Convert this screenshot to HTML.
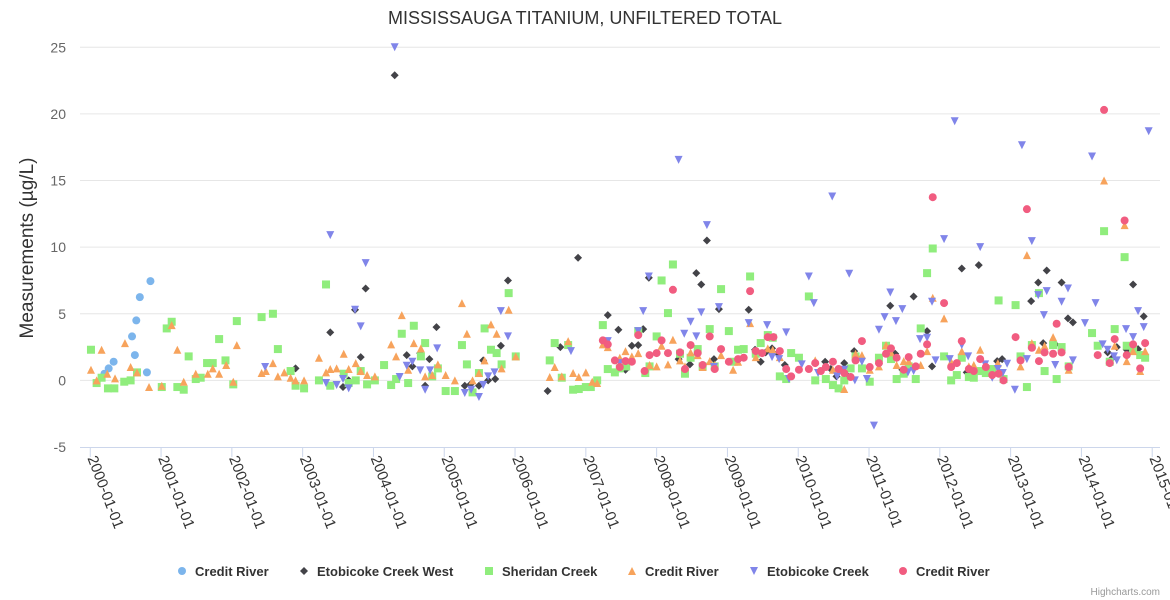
<!DOCTYPE html>
<html><head><meta charset="utf-8"><style>
body{margin:0;background:#fff;}
svg{display:block;font-family:"Liberation Sans",Arial,sans-serif;}
</style></head><body>
<svg id="chart" width="1170" height="600">
<text x="585" y="24" text-anchor="middle" font-size="18" fill="#333">MISSISSAUGA TITANIUM, UNFILTERED TOTAL</text>
<text transform="translate(33,248) rotate(-90)" text-anchor="middle" font-size="19" fill="#333">Measurements (µg/L)</text>
<g id="grid"></g><g id="xaxis"></g><g id="marks"></g><g id="legend"></g>
<text x="1160" y="595" text-anchor="end" font-size="10" fill="#999">Highcharts.com</text>
</svg>
<script>
const yTicks=[-5,0,5,10,15,20,25];
const xTickYears=[2000,2001,2002,2003,2004,2005,2006,2007,2008,2009,2010,2011,2012,2013,2014,2015];
const seriesNames=["Credit River","Etobicoke Creek West","Sheridan Creek","Credit River","Etobicoke Creek","Credit River"];
const creditRiverA=[[2000.20,0.5],[2000.26,0.9],[2000.33,1.4],[2000.59,3.3],[2000.65,4.5],[2000.63,1.9],[2000.70,6.25],[2000.80,0.6],[2000.85,7.45]];
const etobicokeWest=[[2002.90,0.9],[2003.39,3.6],[2003.57,-0.5],[2003.65,0],[2003.74,5.3],[2003.82,1.75],[2003.89,6.9],[2004.30,22.9],[2004.47,1.9],[2004.55,1.05],[2004.66,2.05],[2004.73,-0.4],[2004.79,1.6],[2004.89,4.0],[2005.29,-0.4],[2005.37,-0.3],[2005.49,-0.4],[2005.55,1.5],[2005.62,0],[2005.72,0.1],[2005.80,2.6],[2005.90,7.5],[2006.46,-0.8],[2006.64,2.5],[2006.89,9.2],[2007.31,4.9],[2007.46,3.8],[2007.56,0.8],[2007.65,2.6],[2007.74,2.65],[2007.81,3.85],[2007.89,7.7],[2008.31,1.6],[2008.47,1.2],[2008.56,8.05],[2008.63,7.2],[2008.71,10.5],[2008.81,1.6],[2008.88,5.35],[2009.30,5.3],[2009.39,2.3],[2009.47,1.4],[2009.54,2.1],[2009.63,2.4],[2009.71,2.05],[2009.81,1.15],[2010.38,1.4],[2010.46,0.85],[2010.54,0.3],[2010.65,1.3],[2010.70,0.3],[2010.79,2.2],[2010.81,1.9],[2011.30,5.6],[2011.37,2.0],[2011.47,0.8],[2011.63,6.3],[2011.82,3.7],[2011.89,1.05],[2012.31,8.4],[2012.38,0.6],[2012.55,8.65],[2012.81,1.45],[2012.88,1.6],[2013.29,5.95],[2013.39,7.35],[2013.46,2.8],[2013.51,8.25],[2013.63,2.7],[2013.72,7.35],[2013.81,4.65],[2013.88,4.35],[2014.37,2.1],[2014.44,1.7],[2014.50,2.5],[2014.64,2.3],[2014.73,7.2],[2014.80,2.35],[2014.88,4.8]];
const sheridanCreek=[[2000.01,2.3],[2000.09,-0.2],[2000.16,0.2],[2000.25,-0.6],[2000.34,-0.6],[2000.48,-0.1],[2000.57,0],[2000.66,0.6],[2001.08,3.9],[2001.15,4.4],[2001.01,-0.5],[2001.23,-0.5],[2001.32,-0.7],[2001.39,1.8],[2001.49,0.1],[2001.56,0.2],[2001.65,1.3],[2001.73,1.3],[2001.82,3.1],[2001.91,1.5],[2002.02,-0.3],[2002.07,4.45],[2002.42,4.75],[2002.58,5.0],[2002.65,2.35],[2002.83,0.7],[2002.90,-0.4],[2003.02,-0.6],[2003.23,0],[2003.33,7.2],[2003.39,-0.4],[2003.58,0.5],[2003.65,-0.2],[2003.75,0],[2003.82,0.7],[2003.91,-0.3],[2004.02,0],[2004.15,1.15],[2004.25,-0.35],[2004.32,0.1],[2004.40,3.5],[2004.49,-0.2],[2004.57,4.1],[2004.67,1.8],[2004.73,2.8],[2004.83,0.3],[2004.91,0.9],[2005.02,-0.8],[2005.15,-0.8],[2005.25,2.65],[2005.32,1.2],[2005.40,-0.9],[2005.49,0.55],[2005.57,3.9],[2005.66,2.3],[2005.74,2.05],[2005.81,1.2],[2005.91,6.55],[2006.01,1.8],[2006.49,1.5],[2006.56,2.8],[2006.66,0.2],[2006.75,2.65],[2006.82,-0.7],[2006.90,-0.65],[2007.00,-0.5],[2007.07,-0.5],[2007.16,0],[2007.24,4.15],[2007.31,0.85],[2007.41,0.6],[2007.48,0.9],[2007.57,1.05],[2007.74,3.7],[2007.84,0.55],[2007.90,1.05],[2008.00,3.3],[2008.07,7.5],[2008.16,5.05],[2008.23,8.7],[2008.33,2.0],[2008.40,0.5],[2008.48,1.7],[2008.58,2.35],[2008.65,1.05],[2008.75,3.85],[2008.82,1.05],[2008.91,6.85],[2009.02,3.7],[2009.09,1.4],[2009.15,2.3],[2009.23,2.35],[2009.32,7.8],[2009.40,2.0],[2009.47,2.8],[2009.57,3.4],[2009.64,3.2],[2009.74,0.3],[2009.83,0.1],[2009.90,2.05],[2010.01,1.7],[2010.15,6.3],[2010.24,0],[2010.39,0.1],[2010.49,-0.35],[2010.57,-0.6],[2010.65,0],[2010.74,0.9],[2010.81,1.8],[2010.90,0.9],[2011.01,-0.1],[2011.14,1.7],[2011.24,2.6],[2011.31,1.6],[2011.39,0.1],[2011.49,0.5],[2011.56,1.05],[2011.66,0.1],[2011.73,3.9],[2011.82,8.05],[2011.90,9.9],[2012.06,1.8],[2012.16,0],[2012.24,0.4],[2012.31,1.7],[2012.41,0.25],[2012.48,0.2],[2012.57,0.7],[2012.65,0.55],[2012.74,0.85],[2012.83,6.0],[2012.90,0.1],[2013.07,5.65],[2013.14,1.8],[2013.23,-0.5],[2013.30,2.65],[2013.40,6.55],[2013.48,0.7],[2013.60,2.65],[2013.65,0.1],[2013.72,2.5],[2013.82,1.05],[2014.15,3.55],[2014.23,2.6],[2014.32,11.2],[2014.40,1.4],[2014.47,3.85],[2014.61,9.25],[2014.64,2.6],[2014.73,2.35],[2014.83,1.9],[2014.90,1.7]];
const creditRiverB=[[2000.01,0.8],[2000.09,0],[2000.16,2.3],[2000.24,0.5],[2000.35,0.15],[2000.49,2.8],[2000.57,1.0],[2000.66,0.6],[2000.83,-0.5],[2001.01,-0.4],[2001.15,4.15],[2001.23,2.3],[2001.32,-0.1],[2001.49,0.5],[2001.66,0.5],[2001.73,0.9],[2001.82,0.5],[2001.92,1.15],[2002.02,-0.1],[2002.07,2.65],[2002.42,0.55],[2002.48,0.7],[2002.58,1.3],[2002.65,0.3],[2002.74,0.6],[2002.83,0.2],[2002.90,0],[2003.02,0],[2003.23,1.7],[2003.33,0.6],[2003.39,0.85],[2003.48,0.9],[2003.58,2.0],[2003.65,0.85],[2003.75,1.3],[2003.82,0.7],[2003.91,0.4],[2004.02,0.3],[2004.25,2.7],[2004.32,1.8],[2004.40,4.9],[2004.49,0.8],[2004.57,2.8],[2004.67,2.4],[2004.73,0.3],[2004.83,0.4],[2004.91,1.2],[2005.02,0.4],[2005.15,0],[2005.25,5.8],[2005.32,3.5],[2005.40,0],[2005.49,0.55],[2005.57,1.5],[2005.66,4.2],[2005.74,3.5],[2005.81,0.9],[2005.91,5.3],[2006.01,1.8],[2006.49,0.25],[2006.56,1.0],[2006.66,0.3],[2006.75,2.95],[2006.82,0.55],[2006.90,0.25],[2007.00,0.6],[2007.09,-0.1],[2007.16,-0.2],[2007.24,2.7],[2007.31,2.5],[2007.48,1.7],[2007.56,2.2],[2007.65,1.8],[2007.74,2.05],[2007.90,1.15],[2008.00,1.05],[2008.07,2.6],[2008.16,1.2],[2008.23,3.05],[2008.33,1.5],[2008.40,1.05],[2008.48,2.1],[2008.58,1.9],[2008.65,1.0],[2008.75,1.45],[2008.82,1.15],[2008.91,1.9],[2009.08,0.8],[2009.15,1.4],[2009.32,4.3],[2009.40,1.75],[2009.57,2.4],[2009.64,2.3],[2009.74,1.75],[2010.24,1.5],[2010.49,0.8],[2010.65,-0.65],[2010.81,2.0],[2010.90,1.9],[2011.01,0.8],[2011.14,1.05],[2011.24,2.65],[2011.31,2.1],[2011.39,1.15],[2011.49,1.45],[2011.56,1.45],[2011.73,1.15],[2011.82,2.2],[2011.90,6.2],[2012.06,4.65],[2012.16,1.4],[2012.31,2.2],[2012.41,1.05],[2012.48,1.15],[2012.57,2.3],[2012.82,1.3],[2013.14,1.05],[2013.23,9.4],[2013.30,2.8],[2013.40,2.3],[2013.48,2.6],[2013.60,3.25],[2013.82,0.8],[2014.32,15.0],[2014.47,2.6],[2014.61,11.65],[2014.64,1.45],[2014.73,2.2],[2014.83,0.7],[2014.90,2.2]];
const etobicokeCreek=[[2002.47,1.0],[2003.33,-0.2],[2003.39,10.9],[2003.48,-0.35],[2003.57,0.1],[2003.65,-0.6],[2003.74,5.3],[2003.82,4.05],[2003.89,8.8],[2004.30,25.0],[2004.37,0.25],[2004.47,1.1],[2004.55,1.4],[2004.66,0.75],[2004.73,-0.7],[2004.80,0.75],[2004.90,2.4],[2005.29,-0.95],[2005.38,-0.7],[2005.49,-1.25],[2005.55,-0.35],[2005.62,0.3],[2005.71,0.6],[2005.80,5.2],[2005.90,3.3],[2006.79,2.2],[2007.31,2.95],[2007.48,1.3],[2007.74,3.7],[2007.81,5.2],[2007.89,7.8],[2008.31,16.55],[2008.39,3.5],[2008.48,4.4],[2008.56,3.3],[2008.63,5.1],[2008.71,11.65],[2008.81,1.0],[2008.88,5.5],[2009.30,4.3],[2009.56,4.15],[2009.63,1.75],[2009.73,1.6],[2009.83,3.6],[2009.87,0.1],[2010.05,1.2],[2010.15,7.8],[2010.22,5.8],[2010.28,0.55],[2010.48,13.8],[2010.55,0.3],[2010.65,0.8],[2010.72,8.0],[2010.80,0],[2010.90,1.4],[2010.97,0.1],[2011.07,-3.4],[2011.14,3.8],[2011.22,4.75],[2011.30,6.6],[2011.38,4.45],[2011.47,5.35],[2011.55,0.6],[2011.63,0.7],[2011.72,3.1],[2011.82,3.2],[2011.89,5.9],[2011.94,1.5],[2012.06,10.6],[2012.14,1.6],[2012.21,19.45],[2012.31,2.65],[2012.40,1.8],[2012.57,10.0],[2012.64,1.2],[2012.74,0.2],[2012.82,0.85],[2012.89,0.55],[2012.95,1.25],[2013.06,-0.7],[2013.16,17.65],[2013.23,1.6],[2013.30,10.45],[2013.39,6.4],[2013.47,4.9],[2013.51,6.7],[2013.63,1.15],[2013.72,5.9],[2013.81,6.9],[2013.88,1.5],[2014.05,4.3],[2014.15,16.8],[2014.20,5.8],[2014.30,2.7],[2014.37,2.3],[2014.46,1.8],[2014.50,1.5],[2014.63,3.85],[2014.73,3.25],[2014.80,5.2],[2014.88,4.0],[2014.95,18.7]];
const creditRiverC=[[2007.24,3.0],[2007.31,2.7],[2007.41,1.5],[2007.48,1.0],[2007.56,1.45],[2007.65,1.4],[2007.74,3.4],[2007.83,0.7],[2007.90,1.9],[2008.00,2.05],[2008.07,3.0],[2008.16,2.05],[2008.23,6.8],[2008.33,2.1],[2008.40,0.85],[2008.48,2.65],[2008.58,2.05],[2008.65,1.15],[2008.75,3.3],[2008.82,0.85],[2008.91,2.35],[2009.02,1.4],[2009.15,1.6],[2009.23,1.7],[2009.32,6.7],[2009.40,2.2],[2009.49,2.05],[2009.57,3.25],[2009.65,3.25],[2009.74,2.2],[2009.83,0.85],[2009.90,0.3],[2010.01,0.8],[2010.15,0.85],[2010.24,1.3],[2010.32,0.7],[2010.39,1.0],[2010.49,1.4],[2010.57,0.85],[2010.65,0.55],[2010.74,0.25],[2010.81,1.5],[2010.90,2.95],[2011.01,1.0],[2011.14,1.3],[2011.24,2.0],[2011.31,2.4],[2011.39,1.7],[2011.49,0.8],[2011.56,1.75],[2011.66,1.05],[2011.73,2.0],[2011.82,2.7],[2011.90,13.75],[2012.06,5.8],[2012.16,1.0],[2012.24,1.3],[2012.31,2.95],[2012.41,0.85],[2012.48,0.7],[2012.57,1.6],[2012.65,1.0],[2012.74,0.4],[2012.83,0.5],[2012.90,0],[2013.07,3.25],[2013.14,1.5],[2013.23,12.85],[2013.30,2.45],[2013.40,1.45],[2013.48,2.1],[2013.60,2.0],[2013.65,4.25],[2013.72,2.1],[2013.82,1.0],[2014.23,1.9],[2014.32,20.3],[2014.40,1.3],[2014.47,3.1],[2014.61,12.0],[2014.64,1.9],[2014.73,2.7],[2014.83,0.9],[2014.90,2.8]];

const NS="http://www.w3.org/2000/svg";
const X0=80,X1=1160,Y0=447,Y1=47.3,xMin=1999.855,xMax=2015.11,yMin=-5,yMax=25;
function xs(v){return X0+(v-xMin)/(xMax-xMin)*(X1-X0);}
function ys(v){return Y0-(v-yMin)/(yMax-yMin)*(Y0-Y1);}
function mk(tag,attrs,parent){const e=document.createElementNS(NS,tag);for(const k in attrs)e.setAttribute(k,attrs[k]);parent.appendChild(e);return e;}
const grid=document.getElementById('grid'),xa=document.getElementById('xaxis'),marks=document.getElementById('marks'),leg=document.getElementById('legend');
yTicks.forEach(t=>{
  if(t>yMin){const l=mk('line',{x1:X0,x2:X1,y1:ys(t),y2:ys(t),stroke:'#e6e6e6','stroke-width':1},grid);
  
  }
  const tx=mk('text',{x:66,y:ys(t)+5,'text-anchor':'end','font-size':14,fill:'#666'},grid);
  tx.textContent=t;
  
  
});
const axl=mk('line',{x1:X0,x2:X1,y1:Y0+0.5,y2:Y0+0.5,stroke:'#ccd6eb'},xa);


xTickYears.forEach(yr=>{
  const x=xs(yr);
  const tk=mk('line',{x1:x,x2:x,y1:Y0,y2:Y0+10,stroke:'#ccd6eb'},xa);
  
  
  const tx=mk('text',{transform:`translate(${x-3},${Y0+11}) rotate(69)`,'font-size':15,fill:'#333'},xa);
  tx.textContent=yr+'-01-01';
  
  
});
const colors=['#7cb5ec','#434348','#90ed7d','#f7a35c','#8085e9','#f15c80'];
const shapes=['circle','diamond','square','triangle','triangle-down','circle'];
function symbol(shape,x,y,c,parent){
  if(shape==='circle')return mk('circle',{cx:x,cy:y,r:4,fill:c},parent);
  if(shape==='square')return mk('rect',{x:x-4,y:y-4,width:8,height:8,fill:c},parent);
  if(shape==='diamond')return mk('path',{d:`M${x} ${y-4}L${x+4} ${y}L${x} ${y+4}L${x-4} ${y}Z`,fill:c},parent);
  if(shape==='triangle')return mk('path',{d:`M${x} ${y-4}L${x+4} ${y+4}L${x-4} ${y+4}Z`,fill:c},parent);
  return mk('path',{d:`M${x-4} ${y-4}L${x+4} ${y-4}L${x} ${y+4}Z`,fill:c},parent);
}
const allSeries=[creditRiverA,etobicokeWest,sheridanCreek,creditRiverB,etobicokeCreek,creditRiverC];
const drawOrder=[0,1,2,3,4,5];
drawOrder.forEach(i=>{
  const g=mk('g',{},marks);
  
  
  allSeries[i].forEach(p=>{
    const s=symbol(shapes[i],xs(p[0]),ys(p[1]),colors[i],g);
    
    
  });
});
const legX=[195,317,502,645,767,916];
seriesNames.forEach((n,i)=>{
  const g=mk('g',{},leg);
  
  
  symbol(shapes[i],legX[i]-13,571,colors[i],g);
  const t=mk('text',{x:legX[i],y:576,'font-size':13,'font-weight':'bold',fill:'#333'},g);
  t.textContent=n;
});
</script>
</body></html>
